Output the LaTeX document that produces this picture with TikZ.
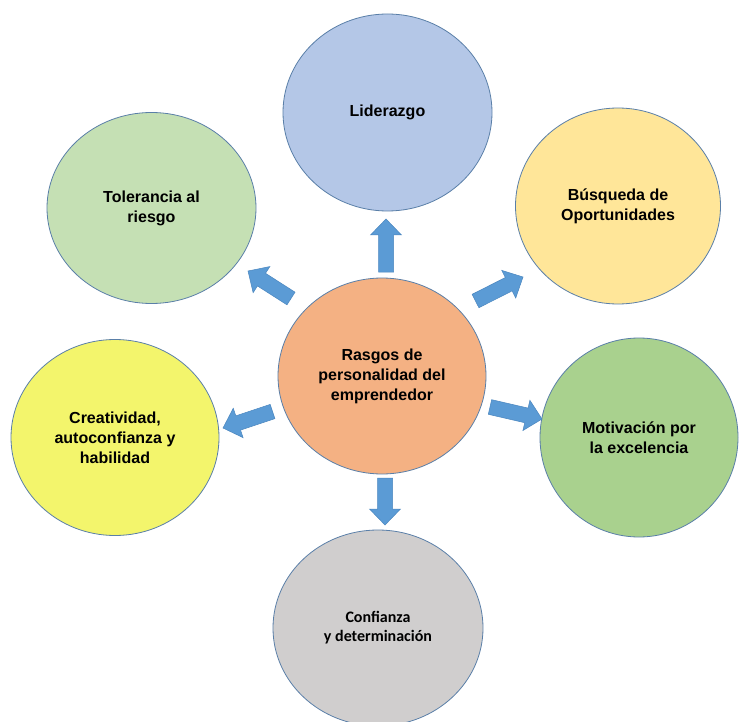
\documentclass[tikz,border=0pt]{standalone}
\usepackage{fontspec}
\setmainfont{Liberation Sans}
\newfontfamily\calibfont{Carlito}
\usetikzlibrary{shapes.geometric,calc}
\definecolor{edgeblue}{HTML}{5A7FA8}
\definecolor{arrowblue}{HTML}{5B9BD5}
\definecolor{arrowedge}{HTML}{4A86BF}
\definecolor{lidfill}{HTML}{B4C7E7}
\definecolor{tolfill}{HTML}{C5E0B4}
\definecolor{busfill}{HTML}{FFE699}
\definecolor{cenfill}{HTML}{F4B183}
\definecolor{crefill}{HTML}{F3F56C}
\definecolor{motfill}{HTML}{A9D18E}
\definecolor{confill}{HTML}{D0CECE}
\newcommand\myblockarrow[2]{%
  \coordinate (hb) at ($(#2)!16pt!(#1)$);
  \filldraw[blockarrow] ($(#1)!7.5pt!90:(#2)$) -- ($(hb)!7.5pt!-90:(#1)$)
    -- ($(hb)!15.5pt!-90:(#1)$) -- (#2) -- ($(hb)!15.5pt!90:(#1)$)
    -- ($(hb)!7.5pt!90:(#1)$) -- ($(#1)!7.5pt!-90:(#2)$) -- cycle;}
\begin{document}
\begin{tikzpicture}[x=1pt,y=-1pt,
  bubble/.style={ellipse, draw=edgeblue, line width=0.8pt, inner sep=0pt, align=center,
    font=\bfseries\fontsize{16}{20}\selectfont, text=black},
  blockarrow/.style={fill=arrowblue, draw=arrowedge, line width=0.5pt, line join=miter}]
\useasboundingbox (0,0) rectangle (739,722);
\clip (0,0) rectangle (739,722);
\fill[white] (0,0) rectangle (739,722);

\node[bubble, fill=lidfill, minimum width=209pt, minimum height=197pt] (lid) at (387.5,112.5) {Liderazgo};
\node[bubble, fill=tolfill, minimum width=209pt, minimum height=191pt] (tol) at (151.5,208) {Tolerancia al\\riesgo};
\node[bubble, fill=busfill, minimum width=205pt, minimum height=196pt] (bus) at (618,206) {Búsqueda de\\Oportunidades};
\node[bubble, fill=cenfill, minimum width=208pt, minimum height=196pt] (cen) at (382,376) {Rasgos de\\personalidad del\\emprendedor};
\node[bubble, fill=crefill, minimum width=208pt, minimum height=196pt] (cre) at (115,437.5) {Creatividad,\\autoconfianza y\\habilidad};
\node[bubble, fill=motfill, minimum width=198pt, minimum height=199pt] (mot) at (639,437.5) {Motivación por\\la excelencia};
\node[bubble, fill=confill, minimum width=210pt, minimum height=196pt,
  font=\calibfont\bfseries\fontsize{16}{19}\selectfont] (con) at (378,628) {Confianza\\y determinación};

\coordinate (a1s) at (386,272);   \coordinate (a1e) at (386,219);
\coordinate (a2s) at (291,298.5); \coordinate (a2e) at (248,271);
\coordinate (a3s) at (475.5,301); \coordinate (a3e) at (523,277);
\coordinate (a4s) at (272.5,411.5); \coordinate (a4e) at (223,428);
\coordinate (a5s) at (490,407);   \coordinate (a5e) at (542,419);
\coordinate (a6s) at (385,478);   \coordinate (a6e) at (385,525);

\myblockarrow{a1s}{a1e}
\myblockarrow{a2s}{a2e}
\myblockarrow{a3s}{a3e}
\myblockarrow{a4s}{a4e}
\myblockarrow{a5s}{a5e}
\myblockarrow{a6s}{a6e}
\end{tikzpicture}
\end{document}
